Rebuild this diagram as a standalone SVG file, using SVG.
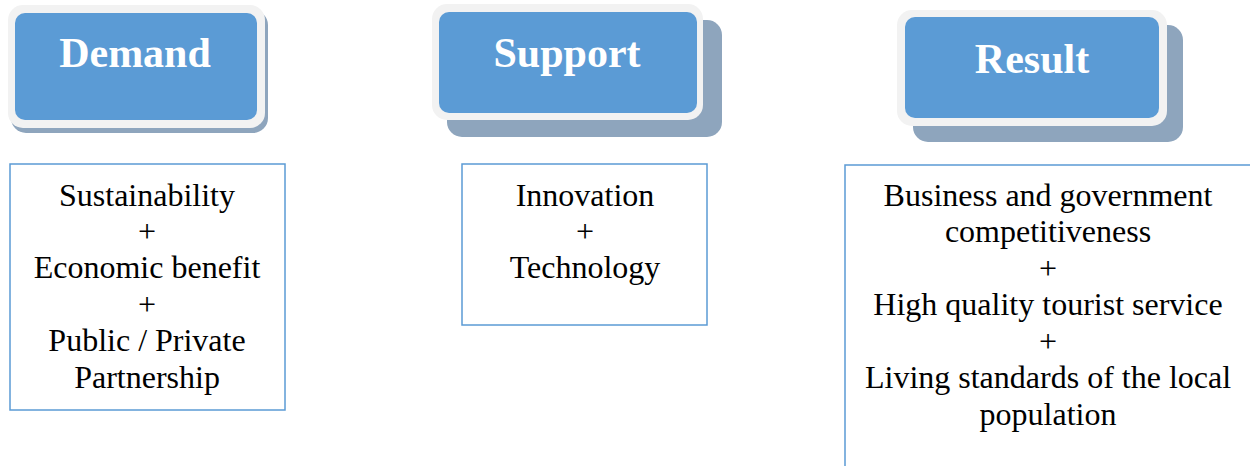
<svg xmlns="http://www.w3.org/2000/svg" width="1250" height="466" viewBox="0 0 1250 466">
<style>
.shadow{fill:#8ea5bd}
.rim{fill:#f2f2f2}
.head{fill:#5b9bd5}
.ht{font-family:"Liberation Serif","Times New Roman",serif;font-weight:bold;font-size:42px;fill:#ffffff;text-anchor:middle}
.box{fill:#ffffff;stroke:#5b9bd5;stroke-width:1.5}
.bt{font-family:"Liberation Serif","Times New Roman",serif;font-size:32px;fill:#000000;text-anchor:middle}
</style>
<rect width="1250" height="466" fill="#ffffff"/>
<g id="demand-head">
<rect class="shadow" x="11" y="10" width="257" height="123" rx="15"/>
<rect class="rim" x="8" y="5" width="257" height="123" rx="15"/>
<rect class="head" x="15" y="13" width="242" height="107" rx="10"/>
<text class="ht" x="135" y="67">Demand</text>
</g>
<g id="support-head">
<rect class="shadow" x="447" y="20" width="275" height="117" rx="15"/>
<rect class="rim" x="432" y="4" width="271" height="116" rx="15"/>
<rect class="head" x="439" y="12" width="258" height="101" rx="10"/>
<text class="ht" x="567" y="67">Support</text>
</g>
<g id="result-head">
<rect class="shadow" x="913" y="25" width="270" height="117" rx="15"/>
<rect class="rim" x="897" y="10" width="270" height="116" rx="15"/>
<rect class="head" x="905" y="17" width="254" height="101" rx="10"/>
<text class="ht" x="1032" y="73">Result</text>
</g>
<g id="demand-box">
<rect class="box" x="10" y="164" width="275" height="246"/>
<text class="bt" x="147" y="206">Sustainability</text>
<text class="bt" x="147" y="242">+</text>
<text class="bt" x="147" y="278">Economic benefit</text>
<text class="bt" x="147" y="315">+</text>
<text class="bt" x="147" y="351">Public / Private</text>
<text class="bt" x="147" y="388">Partnership</text>
</g>
<g id="support-box">
<rect class="box" x="462" y="164" width="245" height="161"/>
<text class="bt" x="585" y="206">Innovation</text>
<text class="bt" x="585" y="242">+</text>
<text class="bt" x="585" y="278">Technology</text>
</g>
<g id="result-box">
<rect class="box" x="845" y="165" width="420" height="320"/>
<text class="bt" x="1048" y="206">Business and government</text>
<text class="bt" x="1048" y="242">competitiveness</text>
<text class="bt" x="1048" y="279">+</text>
<text class="bt" x="1048" y="315">High quality tourist service</text>
<text class="bt" x="1048" y="352">+</text>
<text class="bt" x="1048" y="388">Living standards of the local</text>
<text class="bt" x="1048" y="425">population</text>
</g>
<g id="connectors"></g>
</svg>
